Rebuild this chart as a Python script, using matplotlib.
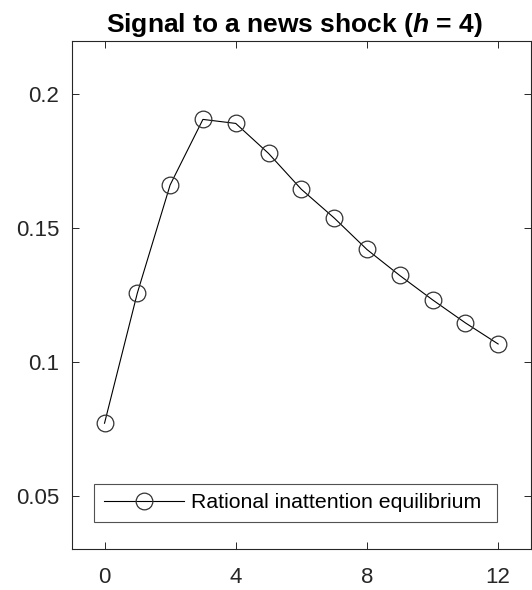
import numpy as np
from matplotlib import pyplot as plt

# impulse response of the signal
horizon = [0, 1, 2, 3, 4, 5, 6, 7, 8, 9, 10, 11, 12]
signal = [0.0771, 0.1257, 0.1661, 0.1906, 0.1891, 0.1779, 0.1645,
          0.1538, 0.1420, 0.1323, 0.1232, 0.1146, 0.1067]
xticks = [0, 4, 8, 12]
yticks = [0.05, 0.1, 0.15, 0.2]
ytick_labels = ['0.05', '0.1', '0.15', '0.2']
series_label = 'Rational inattention equilibrium'

plt.rcParams['font.family'] = ['Liberation Sans', 'DejaVu Sans']
plt.rcParams['mathtext.fontset'] = 'custom'
plt.rcParams['mathtext.bfit'] = 'Liberation Sans:italic:bold'
plt.rcParams['mathtext.bf'] = 'Liberation Sans:bold'
plt.rcParams['mathtext.rm'] = 'Liberation Sans'

fig = plt.figure(figsize=(5.32, 5.90), dpi=100)
ax = fig.add_axes([0.1348, 0.069, 0.8632, 0.862])

ax.plot(horizon, signal, color='black', linewidth=0.8,
        marker='o', markersize=12, markerfacecolor='none',
        markeredgecolor='#333333', markeredgewidth=0.9,
        label=series_label)

ax.set_xlim(-1, 13)
ax.set_ylim(0.03, 0.22)
ax.set_xticks(xticks)
ax.set_yticks(yticks)
ax.set_yticklabels(ytick_labels)
ax.tick_params(direction='in', length=5, width=0.7, colors='#262626',
               labelsize=16, top=True, right=True, pad=9)
ax.tick_params(axis='x', pad=13)
for s in ax.spines.values():
    s.set_color('#262626')
    s.set_linewidth(0.8)

ax.set_title(r'Signal to a news shock ($\mathbfit{h}$ = 4)',
             fontsize=19, fontweight='bold', pad=6, x=0.485)

# legend box stretched to the width of the original
leg = ax.legend(loc='lower left', bbox_to_anchor=(0.049, 0.0537, 0.878, 0.075),
                mode='expand', borderaxespad=0, fontsize=15.3, frameon=True,
                fancybox=False, handlelength=3.76, handletextpad=0.35,
                borderpad=0.45)
leg.get_frame().set_edgecolor('#262626')
leg.get_frame().set_linewidth(0.8)

plt.savefig('out.png', dpi=100)
